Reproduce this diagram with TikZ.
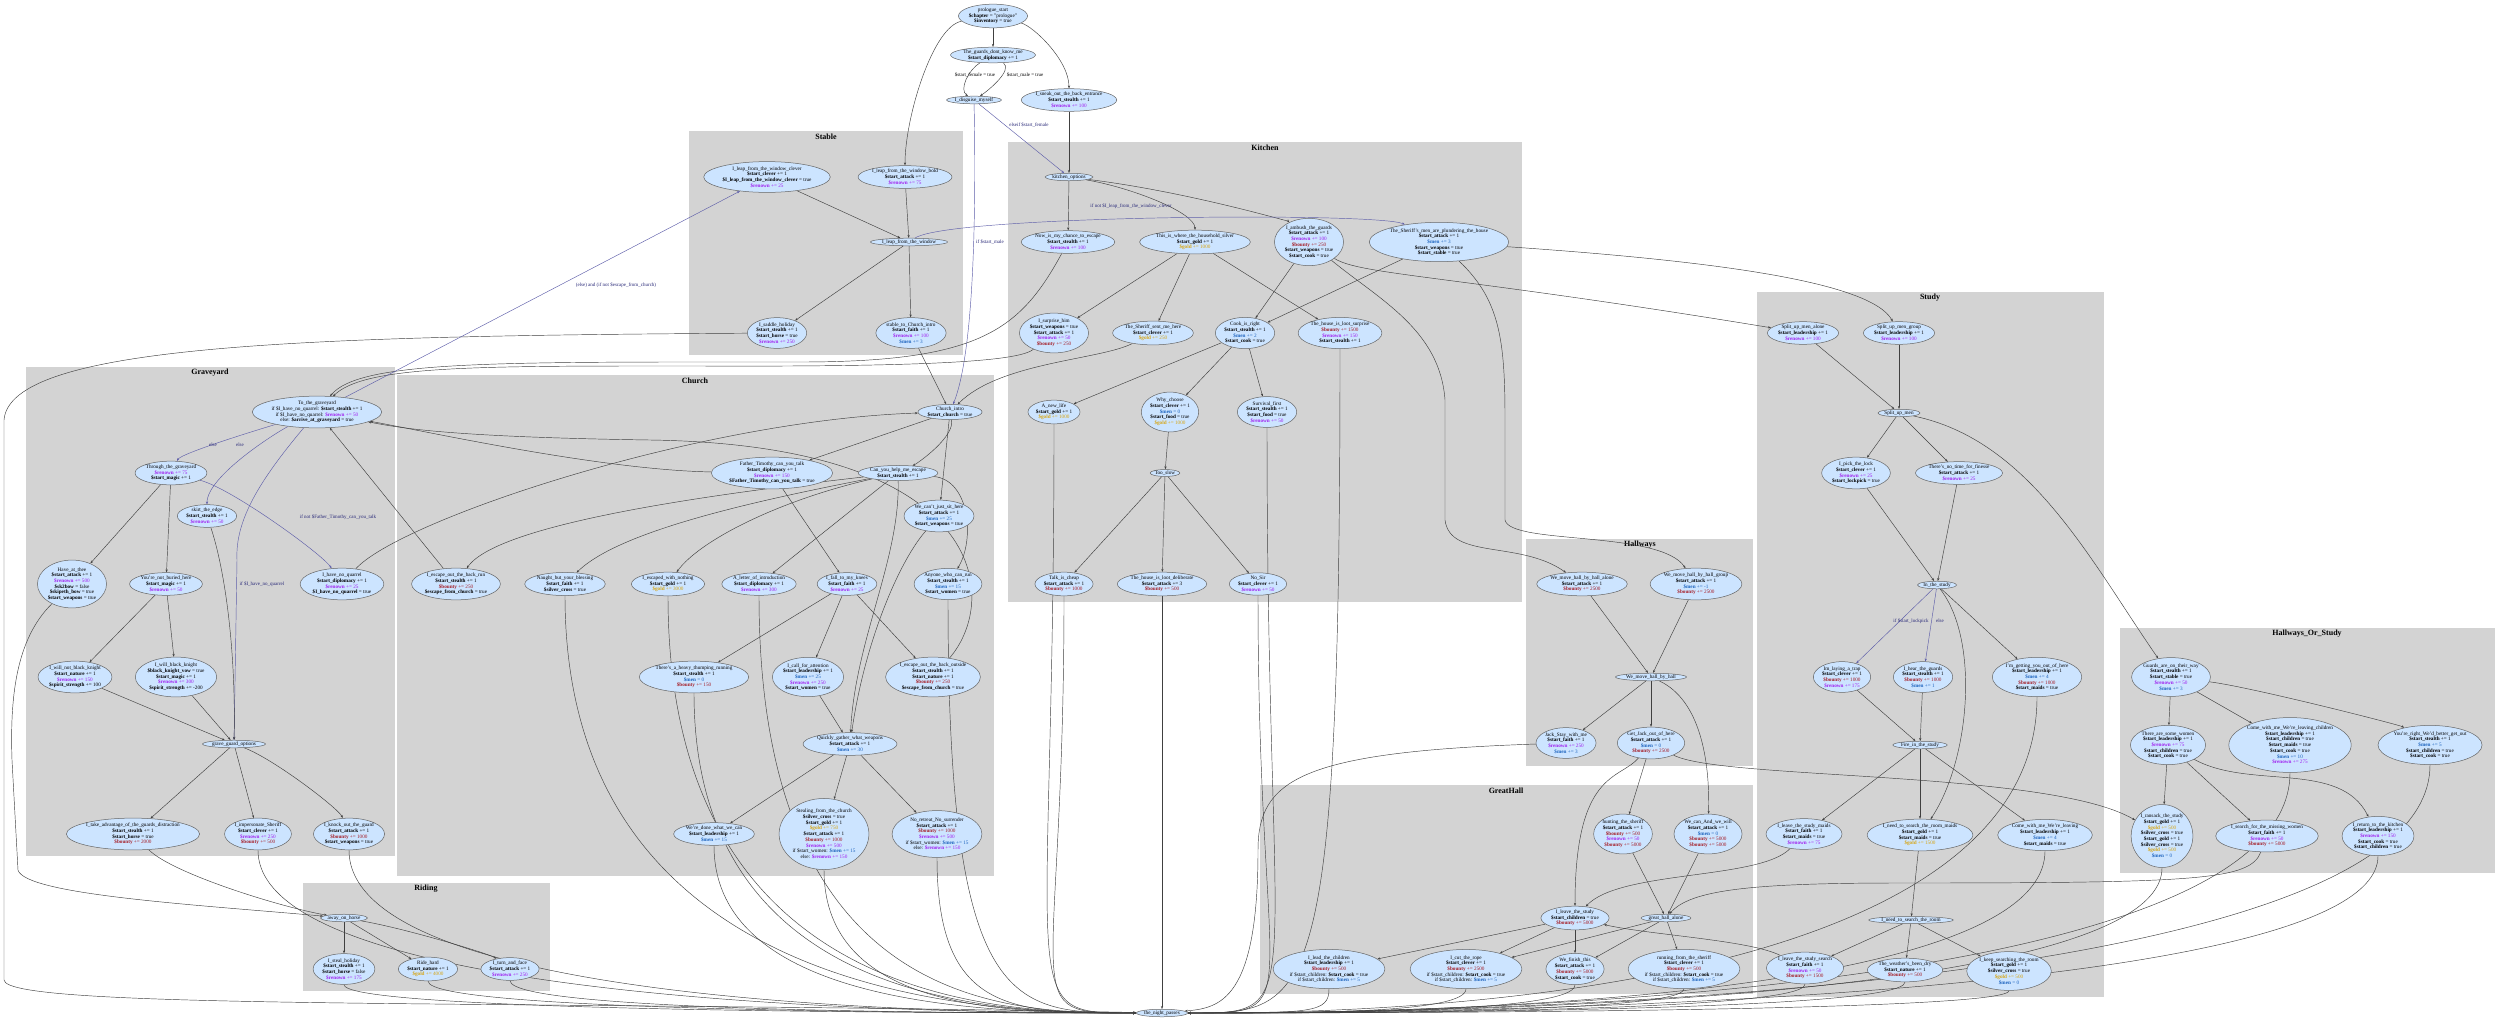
\documentclass[tikz,border=0pt]{standalone}
\usepackage{fontspec}
\setmainfont{Liberation Serif}
\usetikzlibrary{shapes.geometric,arrows.meta}
\pgfdeclarelayer{bg}\pgfdeclarelayer{fg}\pgfsetlayers{bg,main,fg}
\definecolor{nfill}{RGB}{204,228,255}
\definecolor{clus}{RGB}{211,211,211}
\definecolor{bedge}{RGB}{95,95,170}
\definecolor{labc}{RGB}{40,40,120}
\definecolor{ren}{RGB}{160,32,240}
\definecolor{bou}{RGB}{165,30,40}
\definecolor{men}{RGB}{30,100,190}
\definecolor{gld}{RGB}{215,165,20}
\newcommand\Vb[1]{\textbf{\$#1}}
\newcommand\Rn[1]{\textcolor{ren}{\textbf{\$renown} #1}}
\newcommand\Bn[1]{\textcolor{bou}{\textbf{\$bounty} #1}}
\newcommand\Mn[1]{\textcolor{men}{\textbf{\$men} #1}}
\newcommand\Gd[1]{\textcolor{gld}{\textbf{\$gold} #1}}
\begin{document}
\catcode`\_=12
\begin{tikzpicture}[x=1pt,y=1pt,
 n/.style={ellipse,draw=black!60,fill=nfill,inner sep=0.3pt,align=center,font=\fontsize{5.2}{5.7}\selectfont,line width=0.5pt},
 e/.style={draw=black!75,line width=0.45pt,-{Stealth[length=3pt,width=2.2pt]}},
 be/.style={draw=bedge,line width=0.45pt,-{Stealth[length=3pt,width=2.2pt]}},
 lab/.style={text=labc,font=\fontsize{5}{5.5}\selectfont,inner sep=0.5pt},
 ct/.style={font=\bfseries\fontsize{8}{9}\selectfont}]
\useasboundingbox (0,0) rectangle (2500,-1025);
\begin{pgfonlayer}{bg}
\fill[white] (0,0) rectangle (2500,-1025);
\fill[clus] (689,-131) rectangle (963,-355); \node[ct] at (826,-137) {Stable};
\fill[clus] (1008,-142) rectangle (1522,-602); \node[ct] at (1265,-148) {Kitchen};
\fill[clus] (397,-375) rectangle (994,-876); \node[ct] at (695,-381) {Church};
\fill[clus] (26,-367) rectangle (395,-856); \node[ct] at (210,-373) {Graveyard};
\fill[clus] (303,-883) rectangle (550,-991); \node[ct] at (426,-889) {Riding};
\fill[clus] (1526,-539) rectangle (1753,-766); \node[ct] at (1640,-545) {Hallways};
\fill[clus] (1260,-785) rectangle (1753,-994); \node[ct] at (1506,-791) {GreatHall};
\fill[clus] (1757,-292) rectangle (2104,-997); \node[ct] at (1930,-298) {Study};
\fill[clus] (2120,-628) rectangle (2495,-873); \node[ct] at (2307,-634) {Hallways_Or_Study};
\end{pgfonlayer}
\begin{pgfonlayer}{fg}
\node[n] (pro) at (993,-16) {prologue_start\\\Vb{chapter} = "prologue"\\\Vb{inventory} = true};
\node[n] (guards) at (993,-55) {The_guards_dont_know_me\\\Vb{start_diplomacy} += 1};
\node[n] (disg) at (974,-100) {I_disguise_myself};
\node[n] (sneak) at (1069,-100) {I_sneak_out_the_back_entrance\\\Vb{start_stealth} += 1\\\Rn{+= 100}};
\node[n] (kopt) at (1069,-177) {kitchen_options};
\node[n] (clever) at (767,-177) {I_leap_from_the_window_clever\\\Vb{start_clever} += 1\\\Vb{I_leap_from_the_window_clever} = true\\\Rn{+= 25}};
\node[n] (bold) at (905,-177) {I_leap_from_the_window_bold\\\Vb{start_attack} += 1\\\Rn{+= 75}};
\node[n] (leap) at (909,-242) {I_leap_from_the_window};
\node[n] (saddle) at (777,-333) {I_saddle_holiday\\\Vb{start_stealth} += 1\\\Vb{start_horse} = true\\\Rn{+= 250}};
\node[n] (stch) at (911,-333) {stable_to_Church_intro\\\Vb{start_faith} += 1\\\Rn{+= 100}\\\Mn{+= 3}};
\node[n] (nowis) at (1068,-242) {Now_is_my_chance_to_escape\\\Vb{start_stealth} += 1\\\Rn{+= 100}};
\node[n] (silver) at (1195,-242) {This_is_where_the_household_silver\\\Vb{start_gold} += 1\\\Gd{+= 1000}};
\node[n] (ambush) at (1309,-242) {I_ambush_the_guards\\\Vb{start_attack} += 1\\\Rn{+= 100}\\\Bn{+= 250}\\\Vb{start_weapons} = true\\\Vb{start_cook} = true};
\node[n] (plunder) at (1439,-242) {The_Sheriff's_men_are_plundering_the_house\\\Vb{start_attack} += 1\\\Mn{+= 3}\\\Vb{start_weapons} = true\\\Vb{start_stable} = true};
\node[n] (surprise) at (1054,-333) {I_surprise_him\\\Vb{start_weapons} = true\\\Vb{start_attack} += 1\\\Rn{+= 50}\\\Bn{+= 250}};
\node[n] (sent) at (1153,-333) {The_Sheriff_sent_me_here\\\Vb{start_clever} += 1\\\Gd{+= 250}};
\node[n] (cook) at (1245,-333) {Cook_is_right\\\Vb{start_stealth} += 1\\\Mn{+= 2}\\\Vb{start_cook} = true};
\node[n] (lootS) at (1340,-333) {The_house_is_loot_surprise\\\Bn{+= 1500}\\\Rn{+= 150}\\\Vb{start_stealth} += 1};
\node[n] (newlife) at (1054,-412) {A_new_life\\\Vb{start_gold} += 1\\\Gd{+= 1000}};
\node[n] (why) at (1170,-412) {Why_choose\\\Vb{start_clever} += 1\\\Mn{= 0}\\\Vb{start_food} = true\\\Gd{+= 1000}};
\node[n] (surv) at (1267,-412) {Survival_first\\\Vb{start_stealth} += 1\\\Vb{start_food} = true\\\Rn{+= 50}};
\node[n] (slow) at (1165,-473) {Too_slow};
\node[n] (talk) at (1064,-584) {Talk_is_cheap\\\Vb{start_attack} += 1\\\Bn{+= 1000}};
\node[n] (lootD) at (1162,-584) {The_house_is_loot_deliberate\\\Vb{start_attack} += 3\\\Bn{+= 500}};
\node[n] (nosir) at (1258,-584) {No_Sir\\\Vb{start_clever} += 1\\\Rn{+= 50}};
\node[n] (cintro) at (950,-412) {Church_intro\\\Vb{start_church} = true};
\node[n] (father) at (772,-473) {Father_Timothy_can_you_talk\\\Vb{start_diplomacy} += 1\\\Rn{+= 150}\\\Vb{Father_Timothy_can_you_talk} = true};
\node[n] (help) at (898,-473) {Can_you_help_me_escape\\\Vb{start_stealth} += 1};
\node[n] (sit) at (939,-516) {We_can't_just_sit_here\\\Vb{start_attack} += 1\\\Mn{+= 25}\\\Vb{start_weapons} = true};
\node[n] (run) at (456,-584) {I_escape_out_the_back_run\\\Vb{start_stealth} += 1\\\Bn{+= 250}\\\Vb{escape_from_church} = true};
\node[n] (naught) at (565,-584) {Naught_but_your_blessing\\\Vb{start_faith} += 1\\\Vb{silver_cross} = true};
\node[n] (nothing) at (668,-584) {I_escaped_with_nothing\\\Vb{start_gold} += 1\\\Gd{+= 3000}};
\node[n] (letter) at (759,-584) {A_letter_of_introduction\\\Vb{start_diplomacy} += 1\\\Rn{+= 300}};
\node[n] (knees) at (847,-584) {I_fall_to_my_knees\\\Vb{start_faith} += 1\\\Rn{+= 25}};
\node[n] (anyone) at (948,-584) {Anyone_who_can_run\\\Vb{start_stealth} += 1\\\Mn{+= 15}\\\Vb{start_women} = true};
\node[n] (thump) at (694,-677) {There's_a_heavy_thumping_running\\\Vb{start_stealth} += 1\\\Mn{= 0}\\\Bn{+= 150}};
\node[n] (call) at (808,-677) {I_call_for_attention\\\Vb{start_leadership} += 1\\\Mn{+= 25}\\\Rn{+= 250}\\\Vb{start_women} = true};
\node[n] (outside) at (933,-677) {I_escape_out_the_back_outside\\\Vb{start_stealth} += 1\\\Vb{start_nature} += 1\\\Bn{+= 250}\\\Vb{escape_from_church} = true};
\node[n] (quick) at (850,-744) {Quickly_gather_what_weapons\\\Vb{start_attack} += 1\\\Mn{+= 30}};
\node[n] (done) at (714,-834) {We're_done_what_we_can\\\Vb{start_leadership} += 1\\\Mn{+= 15}};
\node[n] (steal) at (824,-834) {Stealing_from_the_church\\\Vb{silver_cross} = true\\\Vb{start_gold} += 1\\\Gd{+= 750}\\\Vb{start_attack} += 1\\\Bn{+= 1000}\\\Rn{+= 500}\\if \$start_women: \Mn{+= 15}\\else: \Rn{+= 150}};
\node[n] (noret) at (937,-834) {No_retreat_No_surrender\\\Vb{start_attack} += 1\\\Bn{+= 1000}\\\Rn{+= 500}\\if \$start_women: \Mn{+= 15}\\else: \Rn{+= 150}};
\node[n] (grave) at (317,-412) {To_the_graveyard\\if \$I_have_no_quarrel: \Vb{start_stealth} += 1\\if \$I_have_no_quarrel: \Rn{+= 50}\\else: \Vb{arrive_at_graveyard} = true};
\node[n] (through) at (171,-473) {Through_the_graveyard\\\Rn{+= 75}\\\Vb{start_magic} += 1};
\node[n] (skirt) at (207,-516) {skirt_the_edge\\\Vb{start_stealth} += 1\\\Rn{+= 50}};
\node[n] (have) at (72,-584) {Have_at_thee\\\Vb{start_attack} += 1\\\Rn{+= 500}\\\Vb{sk2bow} = false\\\Vb{skipeth_bow} = true\\\Vb{start_weapons} = true};
\node[n] (buried) at (166,-584) {You're_not_buried_here\\\Vb{start_magic} += 1\\\Rn{+= 50}};
\node[n] (quarrel) at (342,-584) {I_have_no_quarrel\\\Vb{start_diplomacy} += 1\\\Rn{+= 25}\\\Vb{I_have_no_quarrel} = true};
\node[n] (wnot) at (75,-677) {I_will_not_black_knight\\\Vb{start_nature} += 1\\\Rn{+= 150}\\\Vb{spirit_strength} += 100};
\node[n] (wbk) at (176,-677) {I_will_black_knight\\\Vb{black_knight_vow} = true\\\Vb{start_magic} += 1\\\Rn{+= 300}\\\Vb{spirit_strength} += -200};
\node[n] (ggo) at (234,-744) {grave_guard_options};
\node[n] (adv) at (133,-834) {I_take_advantage_of_the_guards_distraction\\\Vb{start_stealth} += 1\\\Vb{start_horse} = true\\\Bn{+= 2000}};
\node[n] (imp) at (258,-834) {I_impersonate_Sheriff\\\Vb{start_clever} += 1\\\Rn{+= 250}\\\Bn{+= 500}};
\node[n] (knock) at (349,-834) {I_knock_out_the_guard\\\Vb{start_attack} += 1\\\Bn{+= 1000}\\\Vb{start_weapons} = true};
\node[n] (horse) at (344,-918) {away_on_horse};
\node[n] (stealh) at (344,-969) {I_steal_holiday\\\Vb{start_stealth} += 1\\\Vb{start_horse} = false\\\Rn{+= 175}};
\node[n] (ride) at (428,-969) {Ride_hard\\\Vb{start_nature} += 1\\\Gd{+= 4000}};
\node[n] (turn) at (510,-969) {I_turn_and_face\\\Vb{start_attack} += 1\\\Rn{+= 250}};
\node[n] (hAlone) at (1582,-584) {We_move_hall_by_hall_alone\\\Vb{start_attack} += 1\\\Bn{+= 2500}};
\node[n] (hGroup) at (1696,-584) {We_move_hall_by_hall_group\\\Vb{start_attack} += 1\\\Mn{+= -1}\\\Bn{+= 2500}};
\node[n] (hall) at (1651,-677) {We_move_hall_by_hall};
\node[n] (jack) at (1566,-743) {Jack_Stay_with_me\\\Vb{start_faith} += 1\\\Rn{+= 250}\\\Mn{+= 3}};
\node[n] (getjack) at (1651,-743) {Get_Jack_out_of_here\\\Vb{start_attack} += 1\\\Mn{= 0}\\\Bn{+= 2500}};
\node[n] (hunt) at (1623,-834) {hunting_the_sheriff\\\Vb{start_attack} += 1\\\Bn{+= 500}\\\Rn{+= 50}\\\Bn{+= 5000}};
\node[n] (wecan) at (1708,-834) {We_can_And_we_will\\\Vb{start_attack} += 1\\\Mn{= 0}\\\Bn{+= 5000}\\\Bn{+= 5000}};
\node[n] (leave) at (1575,-918) {I_leave_the_study\\\Vb{start_children} = true\\\Bn{+= 5000}};
\node[n] (gha) at (1666,-918) {great_hall_alone};
\node[n] (lead) at (1329,-969) {I_lead_the_children\\\Vb{start_leadership} += 1\\\Bn{+= 500}\\if \$start_children: \Vb{start_cook} = true\\if \$start_children: \Mn{+= 5}};
\node[n] (rope) at (1466,-969) {I_cut_the_rope\\\Vb{start_clever} += 1\\\Bn{+= 2500}\\if \$start_children: \Vb{start_cook} = true\\if \$start_children: \Mn{+= 5}};
\node[n] (finish) at (1575,-969) {We_finish_this\\\Vb{start_attack} += 1\\\Bn{+= 5000}\\\Vb{start_cook} = true};
\node[n] (runsh) at (1684,-969) {running_from_the_sheriff\\\Vb{start_clever} += 1\\\Bn{+= 500}\\if \$start_children: \Vb{start_cook} = true\\if \$start_children: \Mn{+= 5}};
\node[n] (sAlone) at (1803,-333) {Split_up_men_alone\\\Vb{start_leadership} += 1\\\Rn{+= 100}};
\node[n] (sGroup) at (1899,-333) {Split_up_men_group\\\Vb{start_leadership} += 1\\\Rn{+= 100}};
\node[n] (split) at (1899,-413) {Split_up_men};
\node[n] (lock) at (1856,-473) {I_pick_the_lock\\\Vb{start_clever} += 1\\\Rn{+= 25}\\\Vb{start_lockpick} = true};
\node[n] (finesse) at (1959,-473) {There's_no_time_for_finesse\\\Vb{start_attack} += 1\\\Rn{+= 25}};
\node[n] (study) at (1937,-585) {In_the_study};
\node[n] (trap) at (1842,-677) {Im_laying_a_trap\\\Vb{start_clever} += 1\\\Bn{+= 1000}\\\Rn{+= 175}};
\node[n] (hear) at (1923,-677) {I_hear_the_guards\\\Vb{start_stealth} += 1\\\Bn{+= 1000}\\\Mn{+= 1}};
\node[n] (getout) at (2037,-677) {I'm_getting_you_out_of_here\\\Vb{start_leadership} += 1\\\Mn{+= 4}\\\Bn{+= 1000}\\\Vb{start_maids} = true};
\node[n] (fire) at (1920,-745) {Fire_in_the_study};
\node[n] (lsm) at (1804,-834) {I_leave_the_study_maids\\\Vb{start_faith} += 1\\\Vb{start_maids} = true\\\Rn{+= 75}};
\node[n] (srm) at (1920,-835) {I_need_to_search_the_room_maids\\\Vb{start_gold} += 1\\\Vb{start_maids} = true\\\Gd{+= 1500}};
\node[n] (cwl) at (2045,-835) {Come_with_me_We're_leaving\\\Vb{start_leadership} += 1\\\Mn{+= 4}\\\Vb{start_maids} = true};
\node[n] (sr) at (1911,-920) {I_need_to_search_the_room};
\node[n] (lss) at (1805,-968) {I_leave_the_study_search\\\Vb{start_faith} += 1\\\Rn{+= 50}\\\Bn{+= 1500}};
\node[n] (dry) at (1905,-970) {The_weather's_been_dry\\\Vb{start_nature} += 1\\\Bn{+= 500}};
\node[n] (keep) at (2009,-971) {I_keep_searching_the_room\\\Vb{start_gold} += 1\\\Vb{silver_cross} = true\\\Gd{+= 500}\\\Mn{= 0}};
\node[n] (gw) at (2171,-677) {Guards_are_on_their_way\\\Vb{start_stealth} += 1\\\Vb{start_stable} = true\\\Rn{+= 50}\\\Mn{+= 3}};
\node[n] (women) at (2168,-745) {There_are_some_women\\\Vb{start_leadership} += 1\\\Rn{+= 75}\\\Vb{start_children} = true\\\Vb{start_cook} = true};
\node[n] (cwc) at (2290,-745) {Come_with_me_We're_leaving_children\\\Vb{start_leadership} += 1\\\Vb{start_children} = true\\\Vb{start_maids} = true\\\Vb{start_cook} = true\\\Mn{+= 10}\\\Rn{+= 275}};
\node[n] (right) at (2430,-745) {You're_right_We'd_better_get_out\\\Vb{start_stealth} += 1\\\Mn{+= 5}\\\Vb{start_children} = true\\\Vb{start_cook} = true};
\node[n] (ransack) at (2162,-836) {I_ransack_the_study\\\Vb{start_gold} += 1\\\Gd{+= 500}\\\Vb{silver_cross} = true\\\Vb{start_gold} += 1\\\Vb{silver_cross} = true\\\Gd{+= 500}\\\Mn{= 0}};
\node[n] (missing) at (2267,-836) {I_search_for_the_missing_women\\\Vb{start_faith} += 1\\\Rn{+= 50}\\\Bn{+= 5000}};
\node[n] (ret) at (2378,-836) {I_return_to_the_kitchen\\\Vb{start_leadership} += 1\\\Rn{+= 150}\\\Vb{start_cook} = true\\\Vb{start_children} = true};
\node[n] (night) at (1162,-1013) {the_night_passes};
\end{pgfonlayer}
% edges top
\draw[e] (pro) -- (guards);
\draw[e] (pro) .. controls +(-60,-10) and +(0,60) .. (bold);
\draw[e] (pro) .. controls +(40,-10) and +(0,40) .. (sneak);
\draw[e] (guards) .. controls +(-25,-15) and +(-15,10) .. (disg);
\draw[e] (guards) .. controls +(20,-15) and +(15,10) .. (disg);
\node[lab,text=black] at (975,-75) {\$start_female = true};
\node[lab,text=black] at (1025,-75) {\$start_male = true};
\draw[be] (disg) -- (kopt); \node[lab] at (1029,-125) {elseif \$start_female};
\draw[be] (disg) .. controls (976,-200) and (975,-350) .. (cintro); \node[lab] at (990,-242) {if \$start_male};
\draw[e] (sneak) -- (kopt);
\draw[e] (kopt) -- (nowis);
\draw[e] (kopt) .. controls +(60,-10) and +(0,30) .. (silver);
\draw[e] (kopt) .. controls +(120,-15) and +(-20,20) .. (ambush);
\draw[be] (leap) .. controls (950,-215) and (1380,-212) .. (plunder);
\node[lab] at (1131,-206) {if not \$I_leap_from_the_window_clever};
\draw[e] (clever) -- (leap);
\draw[e] (bold) -- (leap);
\draw[e] (leap) -- (saddle);
\draw[e] (leap) -- (stch);
\draw[e] (stch) -- (cintro);
\draw[e] (saddle) .. controls (300,-336) and (10,-345) .. (4,-420) -- (4,-980) .. controls (6,-1010) and (500,-1000) .. (night);
\draw[e] (have) .. controls (15,-640) and (10,-700) .. (12,-760) -- (18,-870) .. controls (25,-895) and (200,-905) .. (horse);
\draw[e] (nowis) .. controls (1020,-330) and (980,-362) .. (800,-362) .. controls (500,-362) and (360,-360) .. (grave);
\draw[e] (surprise) .. controls (1020,-360) and (950,-367) .. (700,-366) .. controls (480,-366) and (365,-365) .. (grave);
\draw[e] (silver) -- (surprise);
\draw[e] (silver) -- (sent);
\draw[e] (silver) -- (lootS);
\draw[e] (sent) .. controls (1100,-360) and (1000,-362) .. (cintro);
\draw[e] (ambush) -- (cook);
\draw[e] (ambush) .. controls (1380,-300) and (1440,-330) .. (1445,-400) -- (1445,-520) .. controls (1450,-560) and (1520,-540) .. (hAlone);
\draw[e] (ambush) .. controls (1360,-275) and (1450,-275) .. (sAlone);
\draw[e] (plunder) -- (cook);
\draw[e] (plunder) .. controls (1700,-260) and (1870,-280) .. (sGroup);
\draw[e] (plunder) .. controls (1500,-300) and (1505,-340) .. (1505,-420) -- (1505,-520) .. controls (1510,-545) and (1660,-530) .. (hGroup);
\draw[e] (cook) -- (newlife);
\draw[e] (cook) -- (why);
\draw[e] (cook) -- (surv);
\draw[e] (why) -- (slow);
\draw[e] (slow) -- (talk);
\draw[e] (slow) -- (lootD);
\draw[e] (slow) -- (nosir);
% church edges
\draw[e] (cintro) -- (father);
\draw[e] (cintro) .. controls +(5,-25) and +(20,10) .. (help);
\draw[e] (cintro) -- (sit);
\draw[e] (father) -- (knees);
\draw[e] (father) .. controls (600,-470) and (420,-430) .. (grave);
\draw[e] (help) .. controls (750,-490) and (500,-520) .. (run);
\draw[e] (help) .. controls (760,-500) and (620,-530) .. (naught);
\draw[e] (help) .. controls (780,-500) and (700,-540) .. (nothing);
\draw[e] (help) -- (letter);
\draw[e] (help) .. controls (970,-480) and (975,-540) .. (anyone);
\draw[e] (help) .. controls (900,-560) and (855,-640) .. (quick);
\draw[e] (sit) .. controls (900,-560) and (865,-640) .. (quick);
\draw[e] (knees) -- (thump);
\draw[e] (knees) -- (call);
\draw[e] (knees) -- (outside);
\draw[e] (call) -- (quick);
\draw[e] (outside) .. controls (1000,-600) and (990,-445) .. (650,-440) .. controls (450,-437) and (400,-428) .. (grave);
\draw[e] (run) -- (grave);
\draw[e] (quarrel) .. controls (400,-520) and (700,-420) .. (cintro);
\draw[e] (quick) -- (done);
\draw[e] (quick) -- (steal);
\draw[e] (quick) -- (noret);
% graveyard
\draw[be] (grave) .. controls +(-50,-15) and +(10,20) .. (through); \node[lab] at (213,-445) {else};
\draw[be] (grave) .. controls +(-40,-20) and +(0,40) .. (skirt); \node[lab] at (240,-445) {else};
\draw[be] (grave) .. controls (260,-480) and (235,-520) .. (237,-560) -- (ggo); \node[lab] at (262,-584) {if \$I_have_no_quarrel};
\draw[be] (grave) -- (clever); \node[lab] at (616,-285) {(else) and (if not \$escape_from_church)};
\draw[e] (through) -- (have);
\draw[e] (through) -- (buried);
\draw[be] (through) .. controls +(60,-15) and +(-20,30) .. (quarrel); \node[lab] at (338,-517) {if not \$Father_Timothy_can_you_talk};
\draw[e] (skirt) .. controls (225,-570) and (236,-650) .. (ggo);
\draw[e] (buried) -- (wnot);
\draw[e] (buried) -- (wbk);
\draw[e] (wnot) -- (ggo);
\draw[e] (wbk) -- (ggo);
\draw[e] (ggo) -- (adv);
\draw[e] (ggo) -- (imp);
\draw[e] (ggo) .. controls +(40,-15) and +(-10,25) .. (knock);
\draw[e] (adv) .. controls +(40,-40) and +(-60,10) .. (horse);
\draw[e] (horse) -- (stealh);
\draw[e] (horse) -- (ride);
\draw[e] (horse) .. controls +(60,-10) and +(-20,15) .. (turn);
% hallways
\draw[e] (hAlone) -- (hall);
\draw[e] (hGroup) -- (hall);
\draw[e] (hall) -- (jack);
\draw[e] (hall) -- (getjack);
\draw[e] (hall) .. controls (1700,-700) and (1710,-760) .. (wecan);
\draw[e] (getjack) -- (hunt);
\draw[e] (getjack) .. controls (1620,-780) and (1575,-770) .. (leave);
\draw[e] (getjack) .. controls (1720,-780) and (2050,-770) .. (ransack);
\draw[e] (jack) .. controls (1300,-752) and (1258,-780) .. (1258,-850) .. controls (1258,-1000) and (1220,-1008) .. (night);
\draw[e] (hunt) -- (gha);
\draw[e] (wecan) -- (gha);
\draw[e] (leave) -- (lead);
\draw[e] (leave) -- (rope);
\draw[e] (leave) -- (finish);
\draw[e] (gha) -- (rope);
\draw[e] (gha) -- (finish);
\draw[e] (gha) -- (runsh);
\draw[e] (lss) .. controls (1750,-940) and (1650,-935) .. (leave);
\draw[e] (lsm) .. controls (1760,-880) and (1620,-870) .. (leave);
\draw[e] (missing) .. controls (2250,-880) and (2200,-883) .. (1900,-883) .. controls (1750,-883) and (1690,-890) .. (gha);
% study
\draw[e] (sAlone) -- (split);
\draw[e] (sGroup) -- (split);
\draw[e] (split) -- (lock);
\draw[e] (split) -- (finesse);
\draw[e] (split) .. controls (2030,-440) and (2090,-560) .. (gw);
\draw[e] (lock) -- (study);
\draw[e] (finesse) -- (study);
\draw[be] (study) -- (trap); \node[lab] at (1911,-621) {if \$start_lockpick};
\draw[be] (study) -- (hear); \node[lab] at (1940,-621) {else};
\draw[e] (study) -- (getout);
\draw[e] (study) .. controls (1980,-640) and (1970,-760) .. (srm);
\draw[e] (trap) -- (fire);
\draw[e] (hear) -- (fire);
\draw[e] (fire) -- (lsm);
\draw[e] (fire) -- (srm);
\draw[e] (fire) -- (cwl);
\draw[e] (srm) -- (sr);
\draw[e] (sr) -- (lss);
\draw[e] (sr) -- (dry);
\draw[e] (sr) -- (keep);
\draw[e] (gw) -- (women);
\draw[e] (gw) -- (cwc);
\draw[e] (gw) .. controls +(80,-10) and +(-30,20) .. (right);
\draw[e] (women) -- (ransack);
\draw[e] (women) -- (missing);
\draw[e] (women) .. controls (2250,-790) and (2340,-760) .. (ret);
% to the night
\foreach \s in {thump,nothing,letter,naught,done,steal,noret,imp,knock,stealh,ride,turn,newlife,anyone,talk}
  \draw[e] (\s) .. controls (\s |- night) and +(-150,0) .. (night);
\draw[e] (lootD) -- (night);
\foreach \s in {surv,lootS,nosir,lead,rope,finish,runsh,lss,getout,cwl,dry,keep,cwc,right,ransack,ret}
  \draw[e] (\s) .. controls (\s |- night) and +(150,0) .. (night);
\end{tikzpicture}
\end{document}
